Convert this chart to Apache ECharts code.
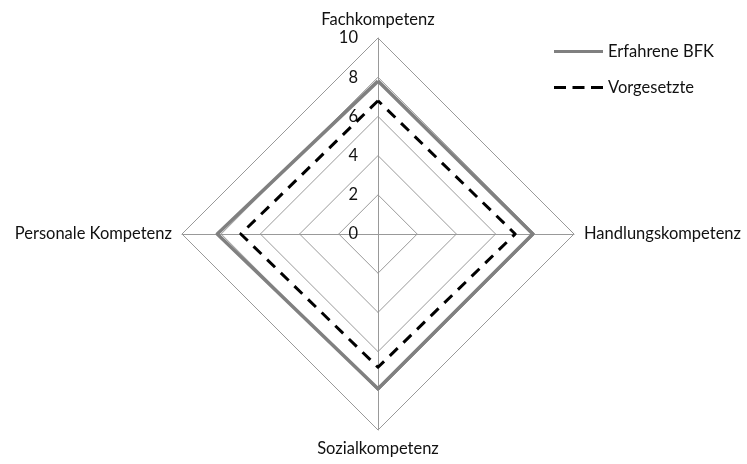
<!DOCTYPE html>
<html>
<head>
<meta charset="utf-8">
<script src="https://cdn.jsdelivr.net/npm/echarts@6/dist/echarts.min.js"></script>
<style>
  html, body { margin: 0; padding: 0; background: #fff; }
  #chart { width: 747px; height: 464px; }
</style>
</head>
<body>
<div id="chart"></div>
<script>
// axes in ECharts order (counter-clockwise from top)
var kompetenzen = ["Fachkompetenz", "Personale Kompetenz", "Sozialkompetenz", "Handlungskompetenz"];
var erfahreneBFK = [7.8, 8.2, 7.9, 7.9];
var vorgesetzte = [6.8, 7.0, 6.8, 7.0];
var seriesNames = ["Erfahrene BFK", "Vorgesetzte"];
var maxWert = 10;

var schrift = "Lato";
var groesse = 16.5;

function buildIndicators() {
    return kompetenzen.map(function (k, i) {
        return {
            name: k, min: 0, max: maxWert,
            axisLabel: { show: i == 0 }
        };
    });
}

var chart = echarts.init(document.getElementById("chart"));
chart.setOption({
    animation: false,
    legend: {
        orient: "vertical",
        left: 549, top: 38,
        itemWidth: 49, itemHeight: 3,
        itemGap: 19,
        textStyle: { fontFamily: schrift, fontSize: groesse, color: "#111" },
        data: [
            { name: seriesNames[0], icon: "rect", itemStyle: { color: "#808080" } },
            { name: seriesNames[1], icon: "path://M0,0h12v3h-12z M18.5,0h12v3h-12z M37,0h12v3h-12z", itemStyle: { color: "#000" } }
        ]
    },
    radar: {
        center: [378, 234],
        radius: 196,
        startAngle: 90,
        shape: "polygon",
        splitNumber: 5,
        nameGap: 10,
        axisName: { fontFamily: schrift, fontSize: groesse, color: "#111" },
        axisLine: { lineStyle: { color: "#999", width: 1 } },
        splitLine: { lineStyle: { color: "#999", width: 1 } },
        splitArea: { show: false },
        axisTick: { show: false },
        axisLabel: { show: false, fontFamily: schrift, fontSize: groesse, color: "#111", margin: 20 },
        indicator: buildIndicators()
    },
    series: [{
        type: "radar",
        symbol: "none",
        data: [
            { name: seriesNames[0], value: erfahreneBFK,
              lineStyle: { color: "#808080", width: 3.5 }, itemStyle: { color: "#808080" } },
            { name: seriesNames[1], value: vorgesetzte,
              lineStyle: { color: "#000", width: 3, type: [11, 8] }, itemStyle: { color: "#000" } }
        ]
    }]
});
</script>
</body>
</html>
